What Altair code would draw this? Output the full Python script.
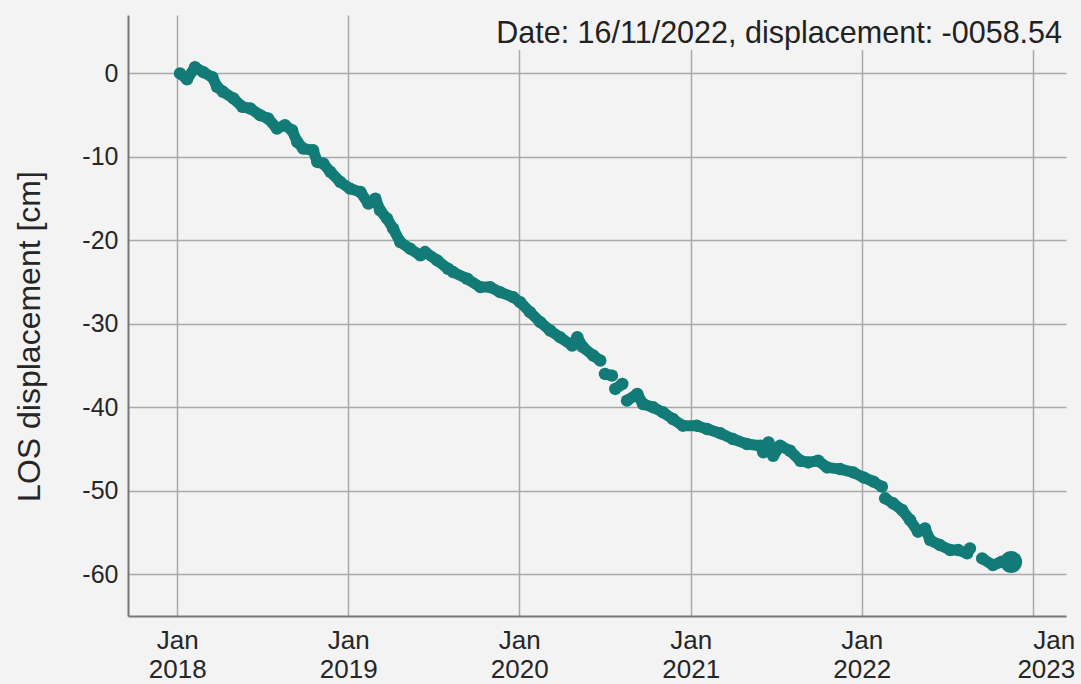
import altair as alt
import pandas as pd

# ---- data ----
dates = [
    "2018-01-07", "2018-01-22", "2018-02-08", "2018-02-26", "2018-03-17", "2018-03-27",
    "2018-04-09", "2018-05-01", "2018-05-20", "2018-06-06", "2018-06-27", "2018-07-14",
    "2018-08-02", "2018-08-19", "2018-09-03", "2018-09-14", "2018-09-27", "2018-10-18",
    "2018-10-27", "2018-11-09", "2018-11-24", "2018-12-15", "2019-01-05", "2019-01-27",
    "2019-02-13", "2019-02-28", "2019-03-10", "2019-03-25", "2019-04-07", "2019-04-22",
    "2019-05-13", "2019-06-04", "2019-06-14", "2019-07-10", "2019-08-02", "2019-08-13",
    "2019-09-12", "2019-10-10", "2019-10-31", "2019-11-21", "2019-12-19", "2020-01-03",
    "2020-01-24", "2020-02-15", "2020-03-07", "2020-03-28", "2020-04-23", "2020-05-04",
    "2020-05-16", "2020-06-07", "2020-06-22", "2020-07-02", "2020-07-17", "2020-07-24",
    "2020-08-08", "2020-08-18", "2020-09-09", "2020-09-21", "2020-10-13", "2020-11-03",
    "2020-11-24", "2020-12-15", "2021-01-14", "2021-02-05", "2021-03-05", "2021-04-01",
    "2021-05-01", "2021-05-29", "2021-06-05", "2021-06-16", "2021-06-26", "2021-07-11",
    "2021-08-01", "2021-08-23", "2021-09-09", "2021-09-30", "2021-10-19", "2021-11-16",
    "2021-12-14", "2022-01-05", "2022-01-26", "2022-02-13", "2022-02-20", "2022-03-09",
    "2022-03-28", "2022-04-14", "2022-05-01", "2022-05-16", "2022-05-27", "2022-06-17",
    "2022-07-09", "2022-07-26", "2022-08-14", "2022-08-20", "2022-09-15", "2022-10-08",
    "2022-10-27", "2022-11-16",
]
displacement = [
    0.0, -0.7, 0.75, 0.15, -0.45, -1.6,
    -2.2, -3.0, -4.0, -4.2, -5.0, -5.4,
    -6.6, -6.2, -6.8, -8.2, -9.0, -9.2,
    -10.6, -10.8, -11.8, -13.0, -13.8, -14.2,
    -15.6, -15.0, -16.4, -17.4, -18.6, -20.2,
    -21.0, -21.8, -21.4, -22.4, -23.4, -23.8,
    -24.6, -25.6, -25.6, -26.2, -26.8, -27.4,
    -28.6, -29.8, -30.8, -31.6, -32.6, -31.6,
    -32.8, -33.8, -34.4, -36.0, -36.2, -37.8,
    -37.2, -39.2, -38.4, -39.6, -40.0, -40.6,
    -41.4, -42.2, -42.2, -42.6, -43.1, -43.8,
    -44.4, -44.6, -45.4, -44.2, -45.8, -44.6,
    -45.2, -46.4, -46.6, -46.4, -47.2, -47.4,
    -47.8, -48.4, -48.9, -49.5, -50.9, -51.5,
    -52.3, -53.5, -54.9, -54.5, -55.9, -56.5,
    -57.1, -57.1, -57.5, -56.9, -58.1, -58.9,
    -58.5, -58.54,
]
# acquisition runs (gaps in the series split the runs)
run_id = [0] * 51 + [1] * 2 + [2] * 2 + [3] * 27 + [4] * 12 + [5] * 4
years = [2018, 2019, 2020, 2021, 2022, 2023]
y_ticks = [0, -10, -20, -30, -40, -50, -60]

df = pd.DataFrame({"date": dates, "disp": displacement, "run": run_id})
last = df.iloc[[-1]]
last_date = pd.Timestamp(dates[-1])
label_text = f"Date: {last_date.strftime('%d/%m/%Y')}, displacement: {displacement[-1]:08.2f}"

TEAL = "#127b77"
FONT = "Liberation Sans"
TXT = "#262626"
W, H = 938, 601

x_enc = alt.X(
    "date:T",
    scale=alt.Scale(
        type="utc",
        domain=[alt.DateTime(year=2017, month=9, date=18, utc=True),
                alt.DateTime(year=2023, month=3, date=13, utc=True)],
    ),
    axis=alt.Axis(
        title=None,
        values=[alt.DateTime(year=y, month=1, date=1, utc=True) for y in years],
        labelExpr="[utcFormat(datum.value, '%b'), utcFormat(datum.value, '%Y')]",
        labelFont=FONT, labelFontSize=26, labelColor=TXT,
        labelLineHeight=29, labelPadding=11,
        labelAlign={"condition": {"test": "utcyear(datum.value) == 2023", "value": "right"}, "value": "center"},
        labelOffset={"condition": {"test": "utcyear(datum.value) == 2023", "value": 42}, "value": 0},
        ticks=False, tickSize=0, labelFlush=False, labelOverlap=False, labelBound=False,
        domainColor="#777777", domainWidth=2,
        grid=True, gridColor="#a9a9a9", gridWidth=1.5,
    ),
)
y_enc = alt.Y(
    "disp:Q",
    scale=alt.Scale(domain=[-65, 7], nice=False, zero=False),
    axis=alt.Axis(
        title="LOS displacement [cm]",
        values=y_ticks,
        labelExpr="datum.value == 0 ? '0' : '-' + abs(datum.value)",
        labelFont=FONT, labelFontSize=25, labelColor=TXT, labelPadding=10,
        ticks=False, tickSize=0,
        domainColor="#777777", domainWidth=2,
        grid=True, gridColor="#a9a9a9", gridWidth=1.5,
        titleFont=FONT, titleFontSize=32, titleFontWeight="normal", titleColor=TXT,
        titleX=-89, titleY=321, titleAngle=270, titleBaseline="alphabetic", titleAlign="center",
    ),
)

base = alt.Chart(df)

line = base.mark_line(color=TEAL, strokeWidth=11, strokeCap="round", strokeJoin="round").encode(
    x=x_enc, y=y_enc, detail="run:N"
)
pts = base.mark_circle(color=TEAL, opacity=1, size=155).encode(x="date:T", y="disp:Q")
big = alt.Chart(last).mark_circle(color=TEAL, opacity=1, size=480).encode(x="date:T", y="disp:Q")

box = alt.Chart(pd.DataFrame({"t": [label_text]})).mark_rect(color="#f3f3f3").encode(
    x=alt.value(367), x2=alt.value(W), y=alt.value(0), y2=alt.value(35)
)
txt = alt.Chart(pd.DataFrame({"t": [label_text]})).mark_text(
    font=FONT, fontSize=30.5, color="#222222", align="right", baseline="alphabetic"
).encode(x=alt.value(934), y=alt.value(28), text="t:N")

chart = (
    alt.layer(line, box, pts, big, txt)
    .properties(
        width=W, height=H,
        autosize=alt.AutoSizeParams(type="none"),
        padding={"left": 120, "top": 7, "right": 14, "bottom": 68},
        background="#f3f3f3",
    )
    .configure_view(strokeWidth=0)
)

chart.save("out.html", embed_options={"renderer": "svg", "actions": False})

with open("out.html", "r", encoding="utf-8") as f:
    html = f.read()
html = html.replace(
    "<head>",
    "<head><style>html,body{background:#f3f3f3;overflow:hidden;}body{margin:8px 0 0 8px;}</style>",
    1,
)
with open("out.html", "w", encoding="utf-8") as f:
    f.write(html)
